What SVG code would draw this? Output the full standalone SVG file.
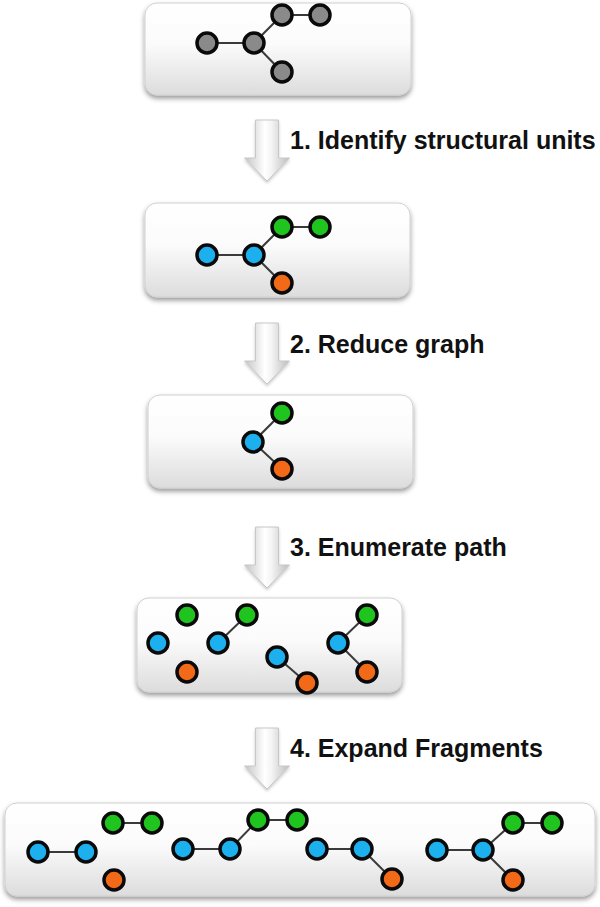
<svg xmlns="http://www.w3.org/2000/svg" width="600" height="907" viewBox="0 0 600 907">
<defs>
<linearGradient id="boxg" x1="0" y1="0" x2="0" y2="1">
<stop offset="0" stop-color="#ffffff"/>
<stop offset="0.45" stop-color="#fbfbfb"/>
<stop offset="1" stop-color="#dcdcdc"/>
</linearGradient>
<linearGradient id="arrg" x1="0" y1="0" x2="1" y2="0">
<stop offset="0" stop-color="#c4c4c4"/>
<stop offset="0.45" stop-color="#ffffff"/>
<stop offset="0.6" stop-color="#f4f4f4"/>
<stop offset="1" stop-color="#bcbcbc"/>
</linearGradient>
<filter id="sh" x="-10%" y="-20%" width="120%" height="150%">
<feDropShadow dx="0" dy="3" stdDeviation="2.5" flood-color="#000" flood-opacity="0.4"/>
</filter>
<filter id="ash" x="-30%" y="-20%" width="160%" height="150%">
<feDropShadow dx="0" dy="2" stdDeviation="1.5" flood-color="#000" flood-opacity="0.2"/>
</filter>
<path id="arrow" d="M-11.5,0 H11.5 V38 H22.5 L0,61 L-22.5,38 H-11.5 Z"/>
</defs>
<style>
.box{fill:url(#boxg);stroke:#d0d0d0;stroke-width:1;filter:url(#sh)}
.arr{fill:url(#arrg);stroke:#c8c8c8;stroke-width:1;filter:url(#ash)}
.e{stroke:#3a3a3a;stroke-width:2;fill:none}
circle{stroke:#0a0a0a;stroke-width:3.5}
.g{fill:#8a8a8a}
.b{fill:#1cb0ee}
.gr{fill:#1fc41f}
.o{fill:#f26a18}
.lbl{font-family:"Liberation Sans",Arial,sans-serif;font-weight:bold;font-size:25px;fill:#111}
</style>

<g id="step1-arrow"><use href="#arrow" class="arr" x="267" y="120"/><text class="lbl" x="290" y="149">1. Identify structural units</text></g>
<g id="step2-arrow"><use href="#arrow" class="arr" x="267" y="323"/><text class="lbl" x="290" y="353">2. Reduce graph</text></g>
<g id="step3-arrow"><use href="#arrow" class="arr" x="267" y="527"/><text class="lbl" x="290" y="556">3. Enumerate path</text></g>
<g id="step4-arrow"><use href="#arrow" class="arr" x="267" y="728"/><text class="lbl" x="290" y="757">4. Expand Fragments</text></g>

<g id="box1">
<rect class="box" x="145" y="3" width="266" height="92" rx="12"/>
<g class="connectors">
<line class="e" x1="207" y1="43" x2="254" y2="43"/>
<line class="e" x1="254" y1="43" x2="282" y2="15"/>
<line class="e" x1="282" y1="15" x2="320" y2="15"/>
<line class="e" x1="254" y1="43" x2="282" y2="72"/>
</g>
<circle class="g" cx="207" cy="43" r="10"/>
<circle class="g" cx="254" cy="43" r="10"/>
<circle class="g" cx="282" cy="15" r="10"/>
<circle class="g" cx="320" cy="15" r="10"/>
<circle class="g" cx="282" cy="72" r="10"/>
</g>

<g id="box2">
<rect class="box" x="145" y="203" width="265" height="94" rx="12"/>
<g class="connectors">
<line class="e" x1="207" y1="255" x2="254" y2="255"/>
<line class="e" x1="254" y1="255" x2="282" y2="227"/>
<line class="e" x1="282" y1="227" x2="320" y2="227"/>
<line class="e" x1="254" y1="255" x2="282" y2="283"/>
</g>
<circle class="b" cx="207" cy="255" r="10"/>
<circle class="b" cx="254" cy="255" r="10"/>
<circle class="gr" cx="282" cy="227" r="10"/>
<circle class="gr" cx="320" cy="227" r="10"/>
<circle class="o" cx="282" cy="283" r="10"/>
</g>

<g id="box3">
<rect class="box" x="148" y="395" width="265" height="93" rx="12"/>
<g class="connectors">
<line class="e" x1="253" y1="442" x2="282" y2="413"/>
<line class="e" x1="253" y1="442" x2="282" y2="469"/>
</g>
<circle class="gr" cx="282" cy="413" r="10"/>
<circle class="b" cx="253" cy="442" r="10"/>
<circle class="o" cx="282" cy="469" r="10"/>
</g>

<g id="box4">
<rect class="box" x="137" y="598" width="265" height="94" rx="12"/>
<g class="connectors">
<line class="e" x1="218" y1="643" x2="247" y2="615"/>
<line class="e" x1="277" y1="657" x2="307" y2="683"/>
<line class="e" x1="338" y1="643" x2="367" y2="615"/>
<line class="e" x1="338" y1="643" x2="367" y2="672"/>
</g>
<circle class="gr" cx="187" cy="615" r="10"/>
<circle class="b" cx="158" cy="643" r="10"/>
<circle class="o" cx="187" cy="672" r="10"/>
<circle class="gr" cx="247" cy="615" r="10"/>
<circle class="b" cx="218" cy="643" r="10"/>
<circle class="b" cx="277" cy="657" r="10"/>
<circle class="o" cx="307" cy="683" r="10"/>
<circle class="gr" cx="367" cy="615" r="10"/>
<circle class="b" cx="338" cy="643" r="10"/>
<circle class="o" cx="367" cy="672" r="10"/>
</g>

<g id="box5">
<rect class="box" x="5" y="803" width="590" height="93" rx="12"/>
<g class="connectors">
<line class="e" x1="38" y1="852" x2="86" y2="852"/>
<line class="e" x1="113" y1="823" x2="152" y2="823"/>
<line class="e" x1="183" y1="849" x2="230" y2="849"/>
<line class="e" x1="230" y1="849" x2="258" y2="820"/>
<line class="e" x1="258" y1="820" x2="297" y2="820"/>
<line class="e" x1="317" y1="849" x2="362" y2="849"/>
<line class="e" x1="362" y1="849" x2="392" y2="879"/>
<line class="e" x1="437" y1="850" x2="483" y2="850"/>
<line class="e" x1="483" y1="850" x2="513" y2="823"/>
<line class="e" x1="513" y1="823" x2="552" y2="823"/>
<line class="e" x1="483" y1="850" x2="513" y2="880"/>
</g>
<circle class="b" cx="38" cy="852" r="10"/>
<circle class="b" cx="86" cy="852" r="10"/>
<circle class="gr" cx="113" cy="823" r="10"/>
<circle class="gr" cx="152" cy="823" r="10"/>
<circle class="o" cx="114" cy="880" r="10"/>
<circle class="b" cx="183" cy="849" r="10"/>
<circle class="b" cx="230" cy="849" r="10"/>
<circle class="gr" cx="258" cy="820" r="10"/>
<circle class="gr" cx="297" cy="820" r="10"/>
<circle class="b" cx="317" cy="849" r="10"/>
<circle class="b" cx="362" cy="849" r="10"/>
<circle class="o" cx="392" cy="879" r="10"/>
<circle class="b" cx="437" cy="850" r="10"/>
<circle class="b" cx="483" cy="850" r="10"/>
<circle class="gr" cx="513" cy="823" r="10"/>
<circle class="gr" cx="552" cy="823" r="10"/>
<circle class="o" cx="513" cy="880" r="10"/>
</g>
</svg>
